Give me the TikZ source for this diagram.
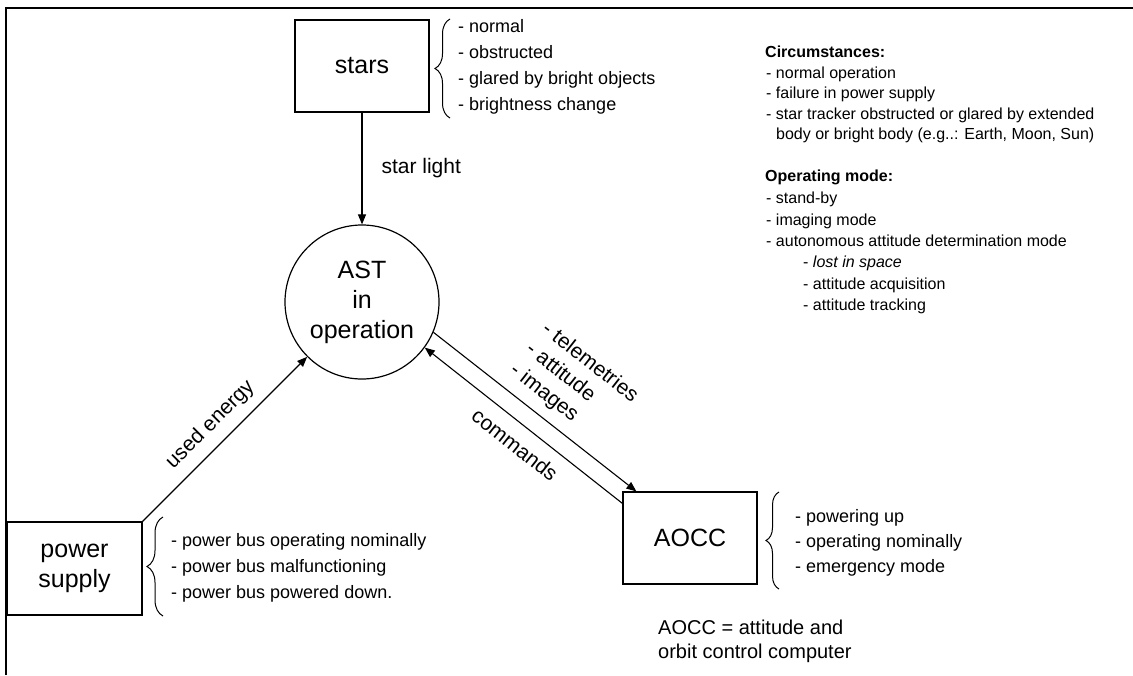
\documentclass[tikz,border=0pt]{standalone}
\usepackage{fontspec}
\setmainfont{Liberation Sans}
\usetikzlibrary{arrows.meta,decorations.pathreplacing,calc}
\begin{document}
\begin{tikzpicture}[x=1pt,y=-1pt,
  box/.style={draw, line width=1.2pt, minimum width=134pt, minimum height=92pt, inner sep=0pt, align=center, font=\fontsize{25}{30}\selectfont},
  arr/.style={line width=1.1pt, -{Triangle[length=10pt,width=8pt]}},
  rarr/.style={line width=1.1pt, {Triangle[length=10pt,width=8pt]}-},
  lbl/.style={inner sep=0pt, font=\fontsize{21}{26}\selectfont},
  item/.style={anchor=base west, inner sep=0pt, font=\fontsize{18}{22}\selectfont},
  note/.style={anchor=base west, inner sep=0pt, font=\fontsize{16}{20}\selectfont},
  brc/.style={decorate, decoration={brace, amplitude=#1}, line width=1pt},
]
\useasboundingbox (0,0) rectangle (1133,675);
% frame
\draw[line width=1.3pt] (6,675) -- (6,8) -- (1133,8);

% main nodes
\node[box] (stars) at (362,66) {stars};
\node[draw, circle, line width=1.2pt, minimum size=154pt, inner sep=0pt, align=center, font=\fontsize{25}{30}\selectfont] (c) at (362,302) {AST\\in\\operation};
\node[box, minimum width=135pt, minimum height=93pt] (ps) at (74.5,568.5) {power\\supply};
\node[box] (aocc) at (690,538) {AOCC};

% connectors
\draw[arr] (stars) -- (c) node[lbl, midway, anchor=west, xshift=19pt] (sl) {star light};
\draw[arr] (ps.north east) -- (c) node[lbl, midway, sloped, above=10pt] (ue) {used energy};
\draw[arr] (c.-23.6) -- ([xshift=14pt]aocc.north west) node[lbl, pos=0.55, sloped, above=10pt, align=left] (tl) {- telemetries\\- attitude\\- images};
\draw[rarr] (c.-36.7) -- ([yshift=-12pt]aocc.north west) node[lbl, pos=0.52, sloped, below=12pt] (cm) {commands};

% braces
\draw[brc=15pt] (450,118) -- (450,19);
\draw[brc=16pt] (163,616) -- (163,517);
\draw[brc=13pt] (779,589) -- (779,492);

% stars list
\node[item] (s1) at (458,32.5) {- normal};
\node[item] (s2) at (458,58.5) {- obstructed};
\node[item] (s3) at (458,84.5) {- glared by bright objects};
\node[item] (s4) at (458,110.5) {- brightness change};

% power list
\node[item] (p1) at (171,546.5) {- power bus operating nominally};
\node[item] (p2) at (171,572.5) {- power bus malfunctioning};
\node[item] (p3) at (171,598.5) {- power bus powered down.};

% AOCC list
\node[item] (a1) at (795,522.5) {- powering up};
\node[item] (a2) at (795,547.5) {- operating nominally};
\node[item] (a3) at (795,572.5) {- emergency mode};

% AOCC note
\node[anchor=base west, inner sep=0pt, font=\fontsize{20}{24}\selectfont] (n1) at (658,634) {AOCC = attitude and};
\node[anchor=base west, inner sep=0pt, font=\fontsize{20}{24}\selectfont] (n2) at (658,658) {orbit control computer};

% right block
\node[note, font=\fontsize{16}{20}\selectfont\bfseries] (h1) at (765,57) {Circumstances:};
\node[note] (c1) at (766,78) {- normal operation};
\node[note] (c2) at (766,98.5) {- failure in power supply};
\node[note] (c3) at (766,119) {- star tracker obstructed or glared by extended};
\node[note] (c4) at (776,139) {body or bright body (e.g..: Earth, Moon, Sun)};

\node[note, font=\fontsize{16}{20}\selectfont\bfseries] (h2) at (765,181) {Operating mode:};
\node[note] (o1) at (766,203) {- stand-by};
\node[note] (o2) at (766,225) {- imaging mode};
\node[note] (o3) at (766,246) {- autonomous attitude determination mode};
\node[note] (o4) at (803,267) {- \textit{lost in space}};
\node[note] (o5) at (803,289) {- attitude acquisition};
\node[note] (o6) at (803,310) {- attitude tracking};
\end{tikzpicture}
\end{document}
